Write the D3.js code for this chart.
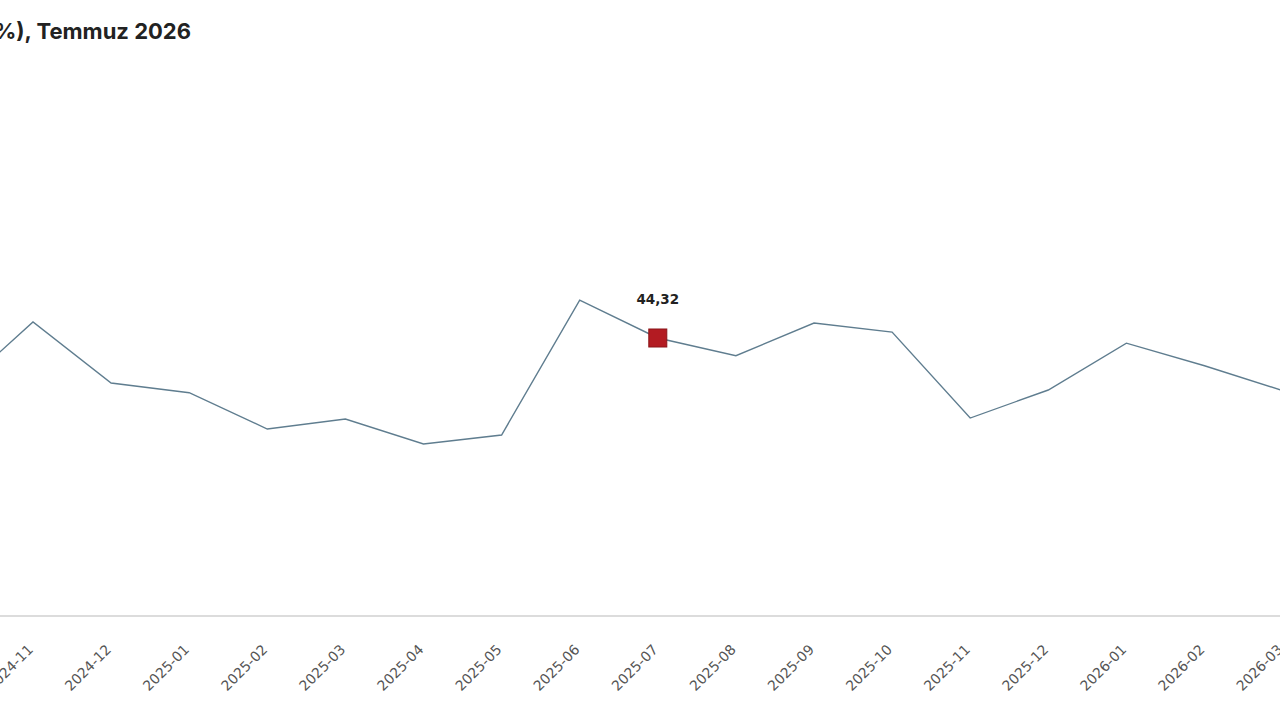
<!DOCTYPE html>
<html>
<head>
<meta charset="utf-8">
<script src="https://cdn.jsdelivr.net/npm/d3@7/dist/d3.min.js"></script>
<style>
  html, body { margin: 0; padding: 0; background: #fff; overflow: hidden; }
  svg { display: block; }
</style>
</head>
<body>
<svg id="chart" width="1280" height="720"></svg>
<script>
const months = ["2024-10","2024-11","2024-12","2025-01","2025-02","2025-03","2025-04","2025-05","2025-06","2025-07","2025-08","2025-09","2025-10","2025-11","2025-12","2026-01","2026-02","2026-03"];
const values = [35.6, 46.87, 37.14, 35.6, 29.81, 31.40, 27.42, 28.85, 50.37, 44.32, 41.50, 46.71, 45.27, 31.56, 36.03, 43.5, 39.9, 35.95];
const highlightMonth = "2025-07";
const titleText = "Oran (%), Temmuz 2026";

const svg = d3.select("#chart");
const W = 1280, H = 720;

const x = d3.scalePoint().domain(months).range([-45.1, 1282.6]);
const y = d3.scaleLinear().domain([0, 80]).range([616, 114.2]);

// title
svg.append("text")
  .attr("x", 191).attr("y", 39)
  .attr("text-anchor", "end")
  .attr("font-family", "Inter, 'Open Sans', sans-serif")
  .attr("font-weight", 700)
  .attr("font-size", 22)
  .attr("fill", "#222")
  .text(titleText);

// x axis
const xAxis = d3.axisBottom(x).tickSize(0).tickPadding(0);
const gx = svg.append("g").attr("transform", `translate(0,${y(0)})`).call(xAxis);
gx.select(".domain").remove();
svg.append("line")
  .attr("x1", 0).attr("x2", W)
  .attr("y1", y(0)).attr("y2", y(0))
  .attr("stroke", "#dcdcdc").attr("stroke-width", 2);
gx.selectAll(".tick text")
  .attr("font-family", "'DejaVu Sans', sans-serif")
  .attr("font-size", 14)
  .attr("fill", "#555")
  .attr("text-anchor", "end")
  .attr("dy", "0.35em")
  .attr("transform", "translate(-3,31) rotate(-45)");

// line
const line = d3.line().x((d, i) => x(months[i])).y(d => y(d));
svg.append("path")
  .datum(values)
  .attr("d", line)
  .attr("fill", "none")
  .attr("stroke", "#5f7d8f")
  .attr("stroke-width", 1.4);

// highlight
const hi = months.indexOf(highlightMonth);
const hx = x(highlightMonth), hy = y(values[hi]);
svg.append("rect")
  .attr("x", hx - 9).attr("y", hy - 9)
  .attr("width", 18).attr("height", 18)
  .attr("fill", "#b31b22")
  .attr("stroke", "#8a1419").attr("stroke-width", 1);
svg.append("text")
  .attr("x", hx).attr("y", hy - 34)
  .attr("text-anchor", "middle")
  .attr("font-family", "'DejaVu Sans', sans-serif")
  .attr("font-weight", 700)
  .attr("font-size", 13.5)
  .attr("fill", "#222")
  .text(values[hi].toFixed(2).replace(".", ","));
</script>
</body>
</html>
